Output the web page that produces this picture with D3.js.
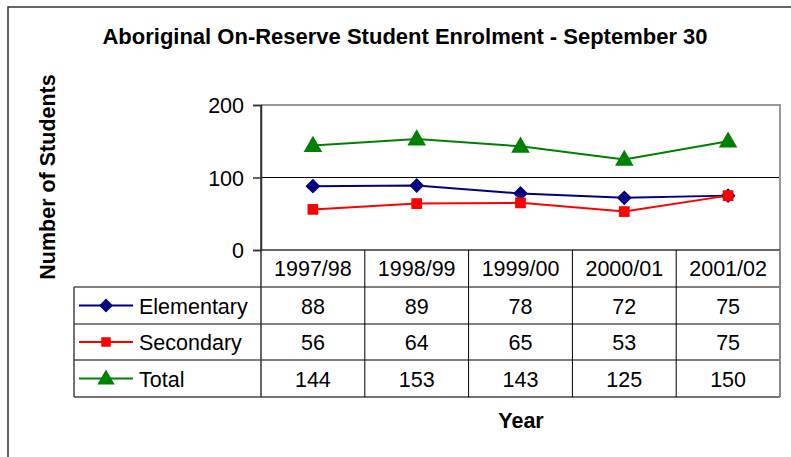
<!DOCTYPE html>
<html>
<head>
<meta charset="utf-8">
<script src="https://cdn.jsdelivr.net/npm/d3@7"></script>
<style>
  body { margin: 0; background: #fff; }
  svg { display: block; font-family: "Liberation Sans", Arial, sans-serif; }
</style>
</head>
<body>
<svg id="chart" width="791" height="457"></svg>
<script>
// Data
var years = ["1997/98", "1998/99", "1999/00", "2000/01", "2001/02"];
var elementary = [88, 89, 78, 72, 75];
var secondary = [56, 64, 65, 53, 75];
var total = [144, 153, 143, 125, 150];
var seriesNames = ["Elementary", "Secondary", "Total"];
var yTicks = [0, 100, 200];

// marker styles: diamond is a square turned 45 degrees
var series = [
  { name: seriesNames[0], values: elementary, color: "#000080", symbol: d3.symbolSquare, size: 110, rotate: 45, dy: 0 },
  { name: seriesNames[1], values: secondary, color: "#ff0000", symbol: d3.symbolSquare, size: 115, rotate: 0, dy: 0 },
  { name: seriesNames[2], values: total, color: "#008000", symbol: d3.symbolTriangle, size: 150, rotate: 0, dy: 1 }
];
var legendSizes = [95, 90, 130];

var svg = d3.select("#chart");

// outer frame (runs off the right and bottom of the picture)
svg.append("rect")
  .attr("x", 8).attr("y", 7)
  .attr("width", 820).attr("height", 480)
  .attr("fill", "none")
  .attr("stroke", "#333")
  .attr("stroke-width", 1.5);

// plot area
var plotLeft = 261, plotRight = 780, plotTop = 105, plotBottom = 250;
var labelSize = "21.5px";

var x = d3.scaleBand()
  .domain(years)
  .range([plotLeft, plotRight]);

var y = d3.scaleLinear()
  .domain([0, 200])
  .range([plotBottom, plotTop]);

// title
svg.append("text")
  .attr("x", 405).attr("y", 44)
  .attr("text-anchor", "middle")
  .style("font-size", "22px")
  .style("font-weight", "bold")
  .text("Aboriginal On-Reserve Student Enrolment - September 30");

// gridline at 100
svg.append("g")
  .selectAll("line")
  .data(yTicks.filter(function (d) { return d > 0 && d < 200; }))
  .enter()
  .append("line")
  .attr("x1", plotLeft).attr("x2", plotRight)
  .attr("y1", function (d) { return y(d); })
  .attr("y2", function (d) { return y(d); })
  .attr("stroke", "#000")
  .attr("stroke-width", 1);

// plot border: grey top/right
svg.append("path")
  .attr("d", "M" + plotLeft + "," + plotTop + "H" + plotRight + "V" + plotBottom)
  .attr("fill", "none")
  .attr("stroke", "#999")
  .attr("stroke-width", 2);

// y axis
var yAxis = svg.append("g")
  .attr("transform", "translate(" + plotLeft + ",0)")
  .call(d3.axisLeft(y).tickValues(yTicks).tickSize(8).tickPadding(9));
yAxis.select(".domain").attr("stroke", "#333").attr("stroke-width", 1.5);
yAxis.selectAll(".tick line").attr("stroke", "#333").attr("stroke-width", 1.5);
yAxis.selectAll(".tick text")
  .style("font-size", labelSize)
  .style("font-family", "Liberation Sans, Arial, sans-serif")
  .attr("fill", "#000")
  .attr("dy", "0.35em");

// y label
svg.append("text")
  .attr("transform", "translate(55,177) rotate(-90)")
  .attr("text-anchor", "middle")
  .style("font-size", "21.5px")
  .style("font-weight", "bold")
  .text("Number of Students");

// data table
var rowTop = [250, 287, 324, 360];
var tableBottom = 397;
var legendLeft = 74;
var table = svg.append("g");

// horizontal lines
table.append("line")
  .attr("x1", plotLeft).attr("x2", plotRight)
  .attr("y1", plotBottom).attr("y2", plotBottom)
  .attr("stroke", "#333").attr("stroke-width", 1.5);
rowTop.slice(1).concat([tableBottom]).forEach(function (yy) {
  table.append("line")
    .attr("x1", legendLeft).attr("x2", plotRight)
    .attr("y1", yy).attr("y2", yy)
    .attr("stroke", yy === tableBottom ? "#444" : "#000")
    .attr("stroke-width", yy === tableBottom ? 1.5 : 1);
});

// vertical lines
table.append("line")
  .attr("x1", legendLeft).attr("x2", legendLeft)
  .attr("y1", rowTop[1]).attr("y2", tableBottom)
  .attr("stroke", "#444").attr("stroke-width", 1.5);
table.append("line")
  .attr("x1", plotLeft).attr("x2", plotLeft)
  .attr("y1", plotTop).attr("y2", tableBottom)
  .attr("stroke", "#333").attr("stroke-width", 1.5);
years.forEach(function (yr, i) {
  if (i === 0) return;
  table.append("line")
    .attr("x1", x(yr)).attr("x2", x(yr))
    .attr("y1", plotBottom).attr("y2", tableBottom)
    .attr("stroke", "#000").attr("stroke-width", 1);
});
table.append("line")
  .attr("x1", plotRight).attr("x2", plotRight)
  .attr("y1", plotBottom).attr("y2", tableBottom)
  .attr("stroke", "#888").attr("stroke-width", 2);

// year labels
table.selectAll(".yearLabel")
  .data(years)
  .enter()
  .append("text")
  .attr("class", "yearLabel")
  .attr("x", function (d) { return x(d) + x.bandwidth() / 2; })
  .attr("y", 276)
  .attr("text-anchor", "middle")
  .style("font-size", labelSize)
  .text(function (d) { return d; });

// series rows
series.forEach(function (s, r) {
  var rowMid = (rowTop[r + 1] + (rowTop[r + 2] || tableBottom)) / 2;

  // legend key
  table.append("line")
    .attr("x1", 79).attr("x2", 133)
    .attr("y1", rowMid).attr("y2", rowMid)
    .attr("stroke", s.color).attr("stroke-width", 2);
  table.append("path")
    .attr("d", d3.symbol().type(s.symbol).size(legendSizes[r])())
    .attr("transform", "translate(106," + (rowMid + s.dy) + ") rotate(" + s.rotate + ")")
    .attr("fill", s.color);
  table.append("text")
    .attr("x", 139).attr("y", rowMid + 8)
    .style("font-size", labelSize)
    .text(s.name);

  // values
  table.selectAll(".val" + r)
    .data(s.values)
    .enter()
    .append("text")
    .attr("x", function (d, i) { return x(years[i]) + x.bandwidth() / 2; })
    .attr("y", rowMid + 8)
    .attr("text-anchor", "middle")
    .style("font-size", labelSize)
    .text(function (d) { return d; });
});

// lines and markers
var line = d3.line()
  .x(function (d, i) { return x(years[i]) + x.bandwidth() / 2; })
  .y(function (d) { return y(d); });

series.forEach(function (s) {
  svg.append("path")
    .datum(s.values)
    .attr("d", line)
    .attr("fill", "none")
    .attr("stroke", s.color)
    .attr("stroke-width", 2);
});
series.forEach(function (s) {
  svg.append("g")
    .selectAll("path")
    .data(s.values)
    .enter()
    .append("path")
    .attr("d", d3.symbol().type(s.symbol).size(s.size)())
    .attr("transform", function (d, i) {
      return "translate(" + (x(years[i]) + x.bandwidth() / 2) + "," + (y(d) + s.dy) + ") rotate(" + s.rotate + ")";
    })
    .attr("fill", s.color);
});

// x label
svg.append("text")
  .attr("x", 521).attr("y", 428)
  .attr("text-anchor", "middle")
  .style("font-size", "21.5px")
  .style("font-weight", "bold")
  .text("Year");
</script>
</body>
</html>
